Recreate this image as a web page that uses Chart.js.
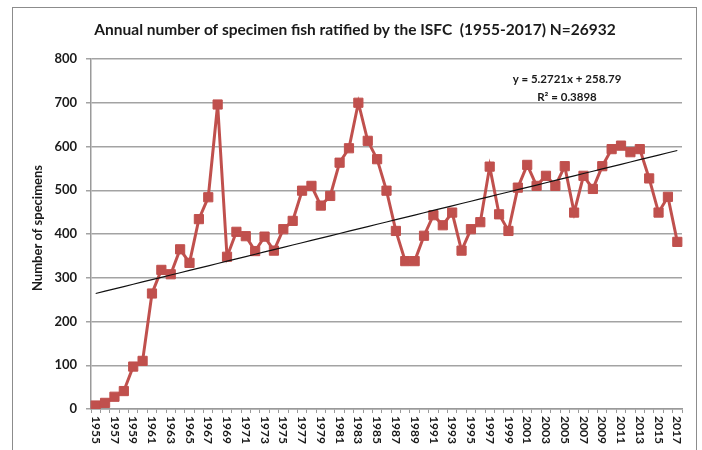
<!DOCTYPE html>
<html><head><meta charset="utf-8">
<script src="https://cdn.jsdelivr.net/npm/chart.js@4"></script>
<style>html,body{margin:0;padding:0;background:#fff}#wrap{width:702px;height:450px}</style>
</head><body><div id="wrap"><canvas id="c" width="702" height="450"></canvas></div>
<script>
const years = ['1955','1956','1957','1958','1959','1960','1961','1962','1963','1964','1965','1966','1967','1968','1969','1970','1971','1972','1973','1974','1975','1976','1977','1978','1979','1980','1981','1982','1983','1984','1985','1986','1987','1988','1989','1990','1991','1992','1993','1994','1995','1996','1997','1998','1999','2000','2001','2002','2003','2004','2005','2006','2007','2008','2009','2010','2011','2012','2013','2014','2015','2016','2017'];
const specimens = [8,14,28,41,97,110,264,318,308,365,334,434,484,696,348,405,395,361,394,362,411,430,499,510,465,487,563,596,700,613,571,499,407,338,338,396,443,420,449,362,411,427,554,445,407,506,558,510,533,510,555,449,533,503,555,594,602,587,594,527,449,485,382];
const yTickValues = [0,100,200,300,400,500,600,700,800];
const trendSlope = 5.2721;
const trendIntercept = 258.79;
const trendText = ['y = 5.2721x + 258.79', 'R\u00B2 = 0.3898'];
const titleText = 'Annual number of specimen fish ratified by the ISFC  (1955-2017) N=26932';
const yTitleText = 'Number of specimens';

const trendValues = years.map((_, i) => trendSlope * (i + 1) + trendIntercept);

const FONT = 'Lato';
const decor = {
  id: 'decor',
  beforeDraw(chart) {
    const ctx = chart.ctx;
    ctx.save();
    ctx.fillStyle = '#fff';
    ctx.fillRect(0, 0, chart.width, chart.height);
    ctx.strokeStyle = '#8c8c8c';
    ctx.lineWidth = 1;
    ctx.strokeRect(12.5, 7.5, 684, 460);
    ctx.restore();
  },
  afterDraw(chart) {
    const ctx = chart.ctx;
    const xs = chart.scales.x;
    ctx.save();
    ctx.fillStyle = '#1a1a1a';
    ctx.font = 'bold 15.5px ' + FONT;
    ctx.textAlign = 'center';
    ctx.textBaseline = 'middle';
    ctx.fillText(titleText, 355, 30);
    ctx.font = 'bold 11.5px ' + FONT;
    ctx.fillText(trendText[0], 567, 79);
    ctx.fillText(trendText[1], 567, 97);
    ctx.save();
    ctx.translate(38, 228);
    ctx.rotate(-Math.PI / 2);
    ctx.font = 'bold 13px ' + FONT;
    ctx.fillText(yTitleText, 0, 0);
    ctx.restore();
    ctx.font = 'bold 12px ' + FONT;
    ctx.textAlign = 'left';
    years.forEach((y, i) => {
      if (i % 2) return;
      const px = xs.getPixelForValue(i);
      ctx.save();
      ctx.translate(px, 416);
      ctx.rotate(Math.PI / 2);
      ctx.fillText(y, 0, 0);
      ctx.restore();
    });
    ctx.restore();
  }
};

new Chart(document.getElementById('c'), {
  type: 'line',
  data: {
    labels: years,
    datasets: [
      {
        label: 'Linear trend',
        data: trendValues,
        borderColor: '#111',
        borderWidth: 1.2,
        pointRadius: 0,
        fill: false,
        tension: 0,
        order: 0
      },
      {
        label: 'Specimens',
        data: specimens,
        borderColor: '#C0504D',
        backgroundColor: '#C0504D',
        borderWidth: 3,
        pointStyle: 'rect',
        pointRadius: 6.5,
        pointBorderWidth: 1,
        pointBackgroundColor: '#C0504D',
        pointBorderColor: '#C0504D',
        fill: false,
        tension: 0,
        order: 1
      }
    ]
  },
  options: {
    responsive: false,
    devicePixelRatio: 1,
    animation: false,
    layout: { padding: { top: 59, left: 0, right: 20, bottom: 0 } },
    plugins: { legend: { display: false }, tooltip: { enabled: false }, title: { display: false } },
    scales: {
      x: {
        type: 'category',
        offset: true,
        grid: { display: true, drawOnChartArea: false, drawTicks: true, tickLength: 4, offset: true, color: '#9a9a9a', lineWidth: 1 },
        border: { display: true, color: '#9a9a9a', width: 1.5 },
        ticks: { display: false },
        afterFit(s) { s.height = 41; }
      },
      y: {
        min: 0,
        max: 800,
        afterBuildTicks(s) { s.ticks = yTickValues.map(v => ({ value: v })); },
        ticks: { stepSize: 100, padding: 9, color: '#1a1a1a', font: { family: FONT, weight: 'bold', size: 13 } },
        grid: { color: '#a3a3a3', lineWidth: 1.5, tickLength: 5 },
        border: { display: true, color: '#9a9a9a', width: 1.5 },
        title: { display: false },
        afterFit(s) { s.width = 91; }
      }
    }
  },
  plugins: [decor]
});
</script>
</body></html>
